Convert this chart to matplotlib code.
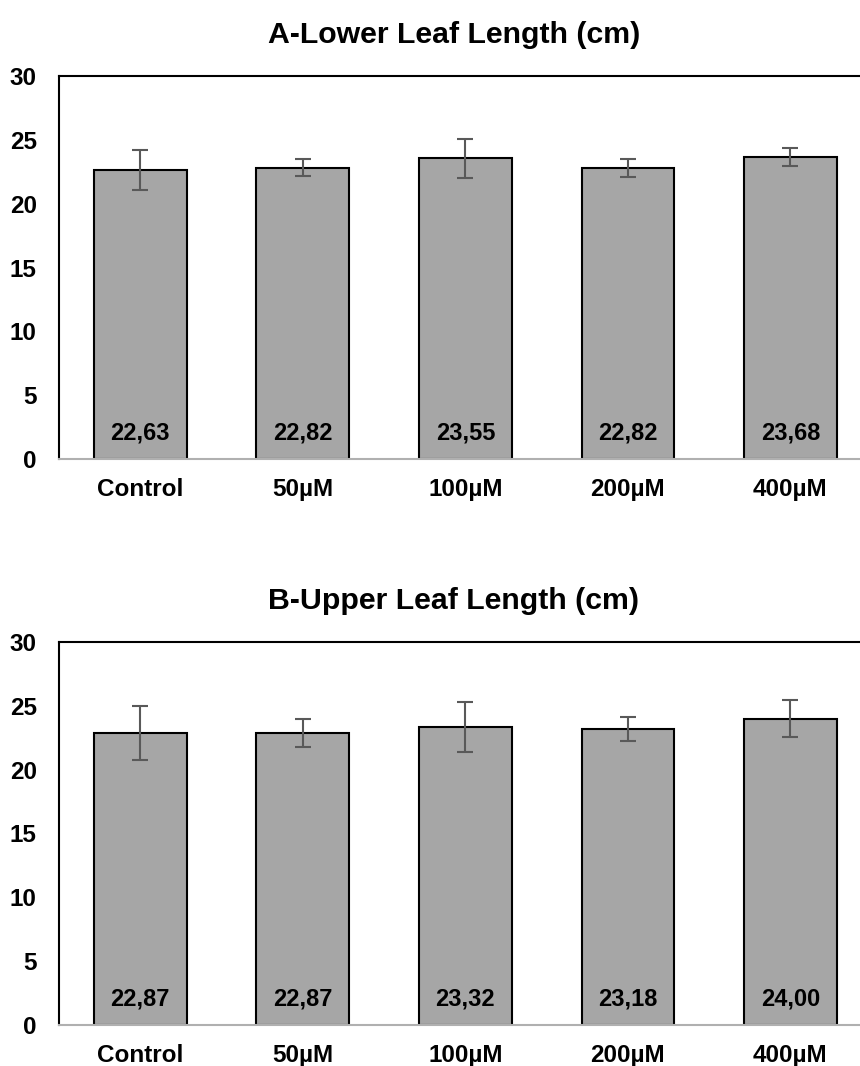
import matplotlib
matplotlib.use("Agg")
import matplotlib.pyplot as plt

categories = ["Control", "50µM", "100µM", "200µM", "400µM"]

lower_mean = [22.63, 22.82, 23.55, 22.82, 23.68]
lower_err = [1.54, 0.65, 1.55, 0.70, 0.70]

upper_mean = [22.87, 22.87, 23.32, 23.18, 24.00]
upper_err = [2.10, 1.10, 1.95, 0.97, 1.43]

titles = ["A-Lower Leaf Length (cm)", "B-Upper Leaf Length (cm)"]

plt.rcParams['font.family'] = ['Liberation Sans', 'DejaVu Sans']
plt.rcParams['font.weight'] = 'bold'

fig = plt.figure(figsize=(8.6, 10.66), dpi=100)
ax_top = fig.add_axes([0.0686, 0.5694, 0.945, 0.3593])
ax_bot = fig.add_axes([0.0686, 0.0385, 0.945, 0.3593])

for ax, means, errs, title in [(ax_top, lower_mean, lower_err, titles[0]),
                               (ax_bot, upper_mean, upper_err, titles[1])]:
    x = range(len(categories))
    ax.bar(x, means, width=0.57, color="#a6a6a6", edgecolor="black", linewidth=1.5, zorder=2)
    ax.errorbar(x, means, yerr=errs, fmt="none", ecolor="#595959", elinewidth=1.5,
                capsize=5.5, capthick=1.5, zorder=3)
    for i, v in enumerate(means):
        ax.text(i, 2.0, f"{v:.2f}".replace(".", ","), ha="center", va="center",
                fontsize=17, fontweight="bold", zorder=4)

    ax.set_xlim(-0.5, 4.5)
    ax.set_ylim(0, 30)
    ax.set_yticks([0, 5, 10, 15, 20, 25, 30])
    ax.set_xticks(list(x))
    ax.set_xticklabels(categories)
    ax.tick_params(axis="both", length=0, labelsize=17.5)
    ax.tick_params(axis="x", pad=14)
    ax.tick_params(axis="y", pad=16)
    for lab in ax.get_xticklabels() + ax.get_yticklabels():
        lab.set_fontweight("bold")

    ax.spines["right"].set_visible(False)
    ax.spines["top"].set_linewidth(1.5)
    ax.spines["left"].set_linewidth(1.5)
    ax.spines["bottom"].set_color("#b0b0b0")
    ax.spines["bottom"].set_linewidth(1.5)

    ax.set_title(title, fontsize=21.8, fontweight="bold", pad=24, x=0.486)

fig.savefig("out.png", dpi=100)
